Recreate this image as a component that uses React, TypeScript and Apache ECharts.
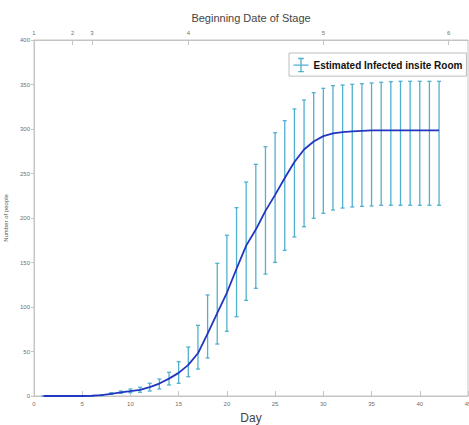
import React, { useEffect, useRef } from "react";
import * as echarts from "echarts";

const days = [1, 2, 3, 4, 5, 6, 7, 8, 9, 10, 11, 12, 13, 14, 15, 16, 17, 18, 19, 20, 21, 22, 23, 24, 25, 26, 27, 28, 29, 30, 31, 32, 33, 34, 35, 36, 37, 38, 39, 40, 41, 42];
const meanValues = [0, 0, 0, 0, 0, 0.3, 1, 2.5, 4, 5.5, 7, 10, 14, 19.5, 26, 35, 48, 70, 93, 116, 143, 169, 187, 208, 226, 245, 263, 277, 286, 292, 295, 296.6, 297.4, 298, 298.5, 298.5, 298.5, 298.5, 298.5, 298.5, 298.5, 298.5];
const lowValues = [0, 0, 0, 0, 0, 0.3, 0.6, 1.9, 3.0, 3.7, 4.2, 5.6, 7.9, 12.4, 14.3, 21.7, 30.3, 42.7, 58.4, 72.7, 89.1, 107.5, 121, 137, 150.2, 163.7, 178.7, 190.2, 199.7, 205.3, 209, 211.2, 212.4, 213.1, 213.5, 214.3, 214.3, 214.3, 214.3, 214.3, 214.3, 214.3];
const highValues = [0, 0, 0, 0, 0, 0.3, 1.5, 3.7, 5.6, 7.9, 9.8, 14.3, 19.1, 26.6, 38.5, 55, 79.4, 113.5, 149.1, 180.6, 211.6, 240.4, 260.3, 280.1, 295.8, 309.3, 322.5, 332.6, 340.8, 345.7, 348.7, 349.4, 350.2, 350.9, 351.7, 352.5, 353.1, 353.6, 353.6, 353.6, 353.6, 353.6];
const stageDays = [0, 4, 6, 16, 30, 43];
const stageLabels = ["1", "2", "3", "4", "5", "6"];
const seriesName = "Estimated Infected insite Room";

const BAR_COLOR = "#4fb0cf";
const LINE_COLOR = "#2236c0";
const AXIS_COLOR = "#c4c4c4";
const LABEL_COLOR = "#707070";
const FONT = "Liberation Sans";

export default function App() {
  const ref = useRef<HTMLDivElement>(null);
  useEffect(() => {
    if (!ref.current) return;
    const chart = echarts.init(ref.current, null, { renderer: "svg" });
    const errData = days.map((d, i) => [d, lowValues[i], highValues[i]]);
    const lineData = days.map((d, i) => [d, meanValues[i]]);
    chart.setOption({
      animation: false,
      backgroundColor: "#ffffff",
      grid: {
        left: 34,
        right: 1,
        top: 40,
        bottom: 29,
        show: true,
        borderColor: AXIS_COLOR,
        borderWidth: 1,
        outerBoundsMode: "none",
        containLabel: false,
      },
      legend: {
        data: [seriesName],
        left: 289,
        top: 53,
        backgroundColor: "#ffffff",
        borderColor: "#bdbdbd",
        borderWidth: 1,
        borderRadius: 0,
        padding: [3, 4, 2, 2],
        itemWidth: 15,
        itemHeight: 14,
        itemGap: 2,
        icon: "path://M0,7 L16,7 M8,0 L8,14 M5,0 L11,0 M5,14 L11,14",
        itemStyle: { color: "none", borderColor: BAR_COLOR, borderWidth: 1.3 },
        textStyle: {
          fontFamily: FONT,
          fontWeight: "bold",
          fontSize: 10,
          color: "#111",
          padding: [0, 0, 0, 0],
        },
      },
      xAxis: [
        {
          type: "value",
          min: 0,
          max: 45,
          interval: 5,
          position: "bottom",
          name: "Day",
          nameLocation: "middle",
          nameGap: 16,
          nameTextStyle: { fontFamily: FONT, fontSize: 12, color: "#444" },
          axisLine: { show: true, lineStyle: { color: AXIS_COLOR } },
          axisTick: { show: true, inside: true, length: 5, lineStyle: { color: AXIS_COLOR } },
          axisLabel: { fontFamily: FONT, fontSize: 6, color: LABEL_COLOR, margin: 5 },
          splitLine: { show: false },
        },
        {
          type: "value",
          min: 0,
          max: 45,
          position: "top",
          name: "Beginning Date of Stage",
          nameLocation: "middle",
          nameGap: 17,
          nameTextStyle: { fontFamily: FONT, fontSize: 11, color: "#444" },
          axisLine: { show: true, lineStyle: { color: AXIS_COLOR } },
          axisTick: {
            show: true,
            inside: true,
            length: 5,
            customValues: stageDays,
            lineStyle: { color: AXIS_COLOR },
          },
          axisLabel: {
            fontFamily: FONT,
            fontSize: 6,
            color: LABEL_COLOR,
            margin: 4,
            customValues: stageDays,
            formatter: (v: number) => {
              const i = stageDays.indexOf(v);
              return i >= 0 ? stageLabels[i] : "";
            },
          },
          splitLine: { show: false },
        },
      ],
      yAxis: {
        type: "value",
        min: 0,
        max: 400,
        interval: 50,
        name: "Number of people",
        nameLocation: "middle",
        nameGap: 17,
        nameTextStyle: { fontFamily: FONT, fontSize: 6, color: "#555" },
        axisLine: { show: true, lineStyle: { color: AXIS_COLOR } },
        axisTick: { show: true, inside: false, length: 3, lineStyle: { color: AXIS_COLOR } },
        axisLabel: { fontFamily: FONT, fontSize: 6, color: LABEL_COLOR, margin: 4 },
        splitLine: { show: false },
      },
      series: [
        {
          name: seriesName,
          type: "custom",
          xAxisIndex: 0,
          yAxisIndex: 0,
          itemStyle: { color: BAR_COLOR },
          encode: { x: 0, y: [1, 2] },
          data: errData,
          z: 2,
          renderItem: (params: any, api: any) => {
            const x = api.value(0);
            const lo = api.coord([x, api.value(1)]);
            const hi = api.coord([x, api.value(2)]);
            const hw = 2;
            const style = { stroke: BAR_COLOR, lineWidth: 1.3 };
            return {
              type: "group",
              children: [
                { type: "line", shape: { x1: lo[0], y1: lo[1], x2: hi[0], y2: hi[1] }, style },
                { type: "line", shape: { x1: lo[0] - hw, y1: lo[1], x2: lo[0] + hw, y2: lo[1] }, style },
                { type: "line", shape: { x1: hi[0] - hw, y1: hi[1], x2: hi[0] + hw, y2: hi[1] }, style },
              ],
            };
          },
        },
        {
          name: "mean",
          type: "line",
          xAxisIndex: 0,
          yAxisIndex: 0,
          data: lineData,
          showSymbol: false,
          symbol: "none",
          smooth: false,
          lineStyle: { color: LINE_COLOR, width: 1.8 },
          z: 3,
        },
      ],
    });
    return () => chart.dispose();
  }, []);
  return (
    <div
      ref={ref}
      style={{ position: "fixed", left: 0, top: 0, width: 469, height: 425, background: "#fff" }}
    />
  );
}
